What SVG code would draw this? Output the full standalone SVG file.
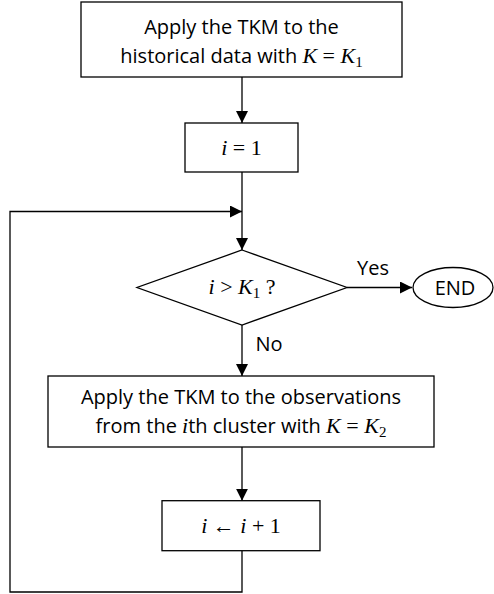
<svg xmlns="http://www.w3.org/2000/svg" width="494" height="594" viewBox="0 0 494 594">
<style>
.box{fill:#fff;stroke:#000;stroke-width:1.3}
.ln{fill:none;stroke:#000;stroke-width:1.3}
.t{font-family:"Open Sans","Liberation Sans",sans-serif;font-size:20px;fill:#000}
.m{font-family:"Liberation Serif","DejaVu Serif",serif;font-style:italic;font-size:22px}
.n{font-family:"Liberation Serif","DejaVu Serif",serif;font-style:normal;font-size:22px}
.s{font-family:"Liberation Serif","DejaVu Serif",serif;font-style:normal;font-size:15px}
</style>
<defs>
<marker id="ah" markerWidth="12" markerHeight="12" refX="12" refY="6" orient="auto" markerUnits="userSpaceOnUse">
<path d="M0,0 L12,6 L0,12 Z" fill="#000"/>
</marker>
</defs>
<g id="connectors">
<line class="ln" x1="242" y1="77" x2="242" y2="123" marker-end="url(#ah)"/>
<line class="ln" x1="242" y1="172" x2="242" y2="250" marker-end="url(#ah)"/>
<polyline class="ln" points="242,550.7 242,592 10,592 10,211.5 242,211.5" marker-end="url(#ah)"/>
<line class="ln" x1="347" y1="287.5" x2="412" y2="287.5" marker-end="url(#ah)"/>
<line class="ln" x1="242" y1="325" x2="242" y2="376" marker-end="url(#ah)"/>
<line class="ln" x1="242" y1="447" x2="242" y2="500.7" marker-end="url(#ah)"/>
<text class="t" x="373" y="275" text-anchor="middle">Yes</text>
<text class="t" x="269" y="351" text-anchor="middle">No</text>
</g>
<g id="n1">
<rect class="box" x="81" y="2" width="321" height="75"/>
<text class="t" x="241.5" y="34" text-anchor="middle">Apply the TKM to the</text>
<text class="t" x="241.5" y="63" text-anchor="middle">historical data with <tspan class="m">K</tspan><tspan class="n"> = </tspan><tspan class="m">K</tspan><tspan class="s" dy="4">1</tspan></text>
</g>
<g id="n2">
<rect class="box" x="185" y="123" width="113" height="49"/>
<text class="t" x="241.5" y="155" text-anchor="middle"><tspan class="m">i</tspan><tspan class="n"> = 1</tspan></text>
</g>
<g id="n3">
<polygon class="box" points="242,250 347,287.5 242,325 137,287.5"/>
<text class="t" x="242" y="294" text-anchor="middle"><tspan class="m">i</tspan><tspan class="n"> &gt; </tspan><tspan class="m">K</tspan><tspan class="s" dy="4">1</tspan><tspan class="n" dy="-4"> ?</tspan></text>
</g>
<g id="n4">
<ellipse class="box" cx="453" cy="287.5" rx="40" ry="20"/>
<text class="t" x="455" y="294.5" text-anchor="middle">END</text>
</g>
<g id="n5">
<rect class="box" x="48" y="376" width="386" height="71"/>
<text class="t" x="241" y="404" text-anchor="middle">Apply the TKM to the observations</text>
<text class="t" x="241" y="433" text-anchor="middle">from the <tspan class="m">i</tspan>th cluster with <tspan class="m">K</tspan><tspan class="n"> = </tspan><tspan class="m">K</tspan><tspan class="s" dy="4">2</tspan></text>
</g>
<g id="n6">
<rect class="box" x="162" y="500.7" width="158" height="50"/>
<text class="t" x="241" y="533" text-anchor="middle"><tspan class="m">i</tspan><tspan class="n"> ← </tspan><tspan class="m">i</tspan><tspan class="n"> + 1</tspan></text>
</g>
</svg>
